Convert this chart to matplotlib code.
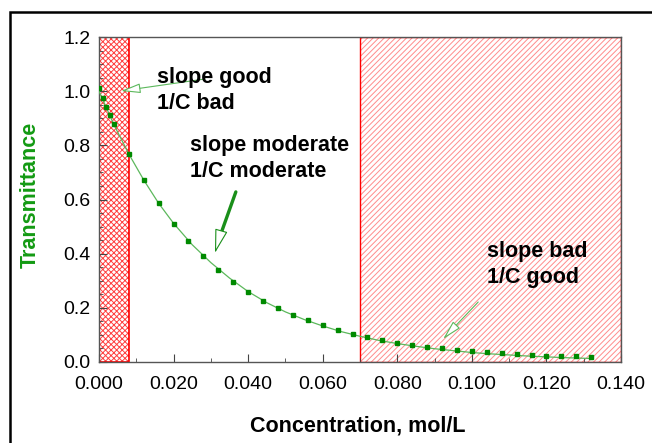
import matplotlib
matplotlib.use("Agg")
import matplotlib.pyplot as plt
from matplotlib.patches import Rectangle
from matplotlib.ticker import MultipleLocator, FormatStrFormatter

plt.rcParams['font.family'] = ['Liberation Sans', 'DejaVu Sans']
plt.rcParams['hatch.linewidth'] = 0.7

# measured points
conc = [0.000, 0.001, 0.002, 0.003, 0.004,
        0.008, 0.012, 0.016, 0.020, 0.024, 0.028, 0.032, 0.036, 0.040, 0.044,
        0.048, 0.052, 0.056, 0.060, 0.064, 0.068, 0.072, 0.076, 0.080, 0.084,
        0.088, 0.092, 0.096, 0.100, 0.104, 0.108, 0.112, 0.116, 0.120, 0.124,
        0.128, 0.132]
trans = [1.010, 0.975, 0.943, 0.911, 0.880,
         0.768, 0.671, 0.586, 0.511, 0.447, 0.390, 0.340, 0.297, 0.260, 0.226,
         0.199, 0.175, 0.154, 0.135, 0.119, 0.105, 0.092, 0.082, 0.071, 0.064,
         0.057, 0.050, 0.043, 0.039, 0.036, 0.032, 0.028, 0.027, 0.023, 0.022,
         0.022, 0.020]

# fitted curve
fit_c = [0.000, 0.004, 0.008, 0.012, 0.016, 0.020, 0.025, 0.030, 0.035, 0.040,
         0.045, 0.050, 0.055, 0.060, 0.065, 0.070, 0.075, 0.080, 0.085, 0.090,
         0.095, 0.100, 0.105, 0.110, 0.115, 0.120, 0.125, 0.132]
fit_t = [1.000, 0.876, 0.768, 0.672, 0.586, 0.512, 0.433, 0.367, 0.310, 0.260,
         0.219, 0.185, 0.157, 0.133, 0.112, 0.095, 0.080, 0.068, 0.058, 0.049,
         0.042, 0.035, 0.030, 0.026, 0.022, 0.019, 0.016, 0.013]

good_slope_zone = (0.0, 0.008)
good_conc_zone = (0.070, 0.140)

notes = ["slope good\n1/C bad", "slope moderate\n1/C moderate", "slope bad\n1/C good"]

green = '#008a00'
line_green = '#5cb85c'

fig = plt.figure(figsize=(6.52, 4.43), dpi=100)
ax = fig.add_axes([99/652, 81/443, 522/652, 325/443])

ax.axvspan(*good_slope_zone, facecolor='none', edgecolor='#ff4040', hatch='xxxxxx', lw=0, zorder=1)
ax.axvspan(*good_slope_zone, facecolor='none', edgecolor='red', lw=1.2, zorder=1.5)
ax.axvspan(*good_conc_zone, facecolor='none', edgecolor='#ff8c8c', hatch='//////', lw=0, zorder=1)
ax.axvspan(*good_conc_zone, facecolor='none', edgecolor='red', lw=1.0, zorder=1.5)

ax.plot(fit_c, fit_t, color=line_green, lw=0.9, zorder=3)
ax.plot(conc, trans, ls='none', marker='s', ms=3, color=green, zorder=4)

ax.set_xlim(0, 0.140)
ax.set_ylim(0, 1.2)
ax.xaxis.set_major_locator(MultipleLocator(0.02))
ax.xaxis.set_minor_locator(MultipleLocator(0.01))
ax.yaxis.set_major_locator(MultipleLocator(0.2))
ax.yaxis.set_minor_locator(MultipleLocator(0.05))
ax.xaxis.set_major_formatter(FormatStrFormatter('%.3f'))
ax.yaxis.set_major_formatter(FormatStrFormatter('%.1f'))
ax.tick_params(which='both', direction='in', labelsize=14, colors='#444444', labelcolor='black')
ax.tick_params(which='major', length=6, pad=6)
ax.tick_params(axis='x', which='major', pad=10)
ax.tick_params(which='minor', length=3)
for s in ax.spines.values():
    s.set_color('#555555')
    s.set_linewidth(1.0)

ax.set_ylabel('Transmittance', color='#139a13', fontsize=15.5, fontweight='bold')
ax.yaxis.set_label_coords(-0.111, 0.514)
ax.set_xlabel('Concentration, mol/L', fontsize=15.5, fontweight='bold')
ax.xaxis.set_label_coords(0.496, -0.165)

tkw = dict(fontsize=15.5, fontweight='bold', va='top', ha='left', linespacing=1.3, zorder=6)
ax.text(0.0156, 1.089, notes[0], **tkw)
ax.text(0.0244, 0.838, notes[1], **tkw)
ax.text(0.1041, 0.447, notes[2], **tkw)

thin = dict(arrowstyle='-|>,head_length=1.2,head_width=0.3', mutation_scale=10,
            ec=line_green, fc='white', lw=0.8, shrinkA=0, shrinkB=0)
ax.annotate('', xy=(0.0059, 1.0006), xytext=(0.0284, 1.045), arrowprops=thin, zorder=5)
ax.annotate('', xy=(0.0326, 0.470), xytext=(0.0367, 0.628),
            arrowprops=dict(arrowstyle='-', color='#1a8f1a', lw=2.4, shrinkA=0, shrinkB=0), zorder=5)
ax.annotate('', xy=(0.0311, 0.4025), xytext=(0.0329, 0.490),
            arrowprops=dict(arrowstyle='-|>,head_length=1.5,head_width=0.4', mutation_scale=10,
                            ec='#1a8f1a', fc='white', lw=0.8, shrinkA=0, shrinkB=0), zorder=5)
ax.annotate('', xy=(0.0923, 0.0849), xytext=(0.1017, 0.2215), arrowprops=thin, zorder=5)

fig.patches.append(Rectangle((10/652, -0.1), 1.0, 1.1 - 12/443, transform=fig.transFigure,
                             fill=False, lw=1.8, ec='black'))

fig.savefig('out.png', dpi=100)
